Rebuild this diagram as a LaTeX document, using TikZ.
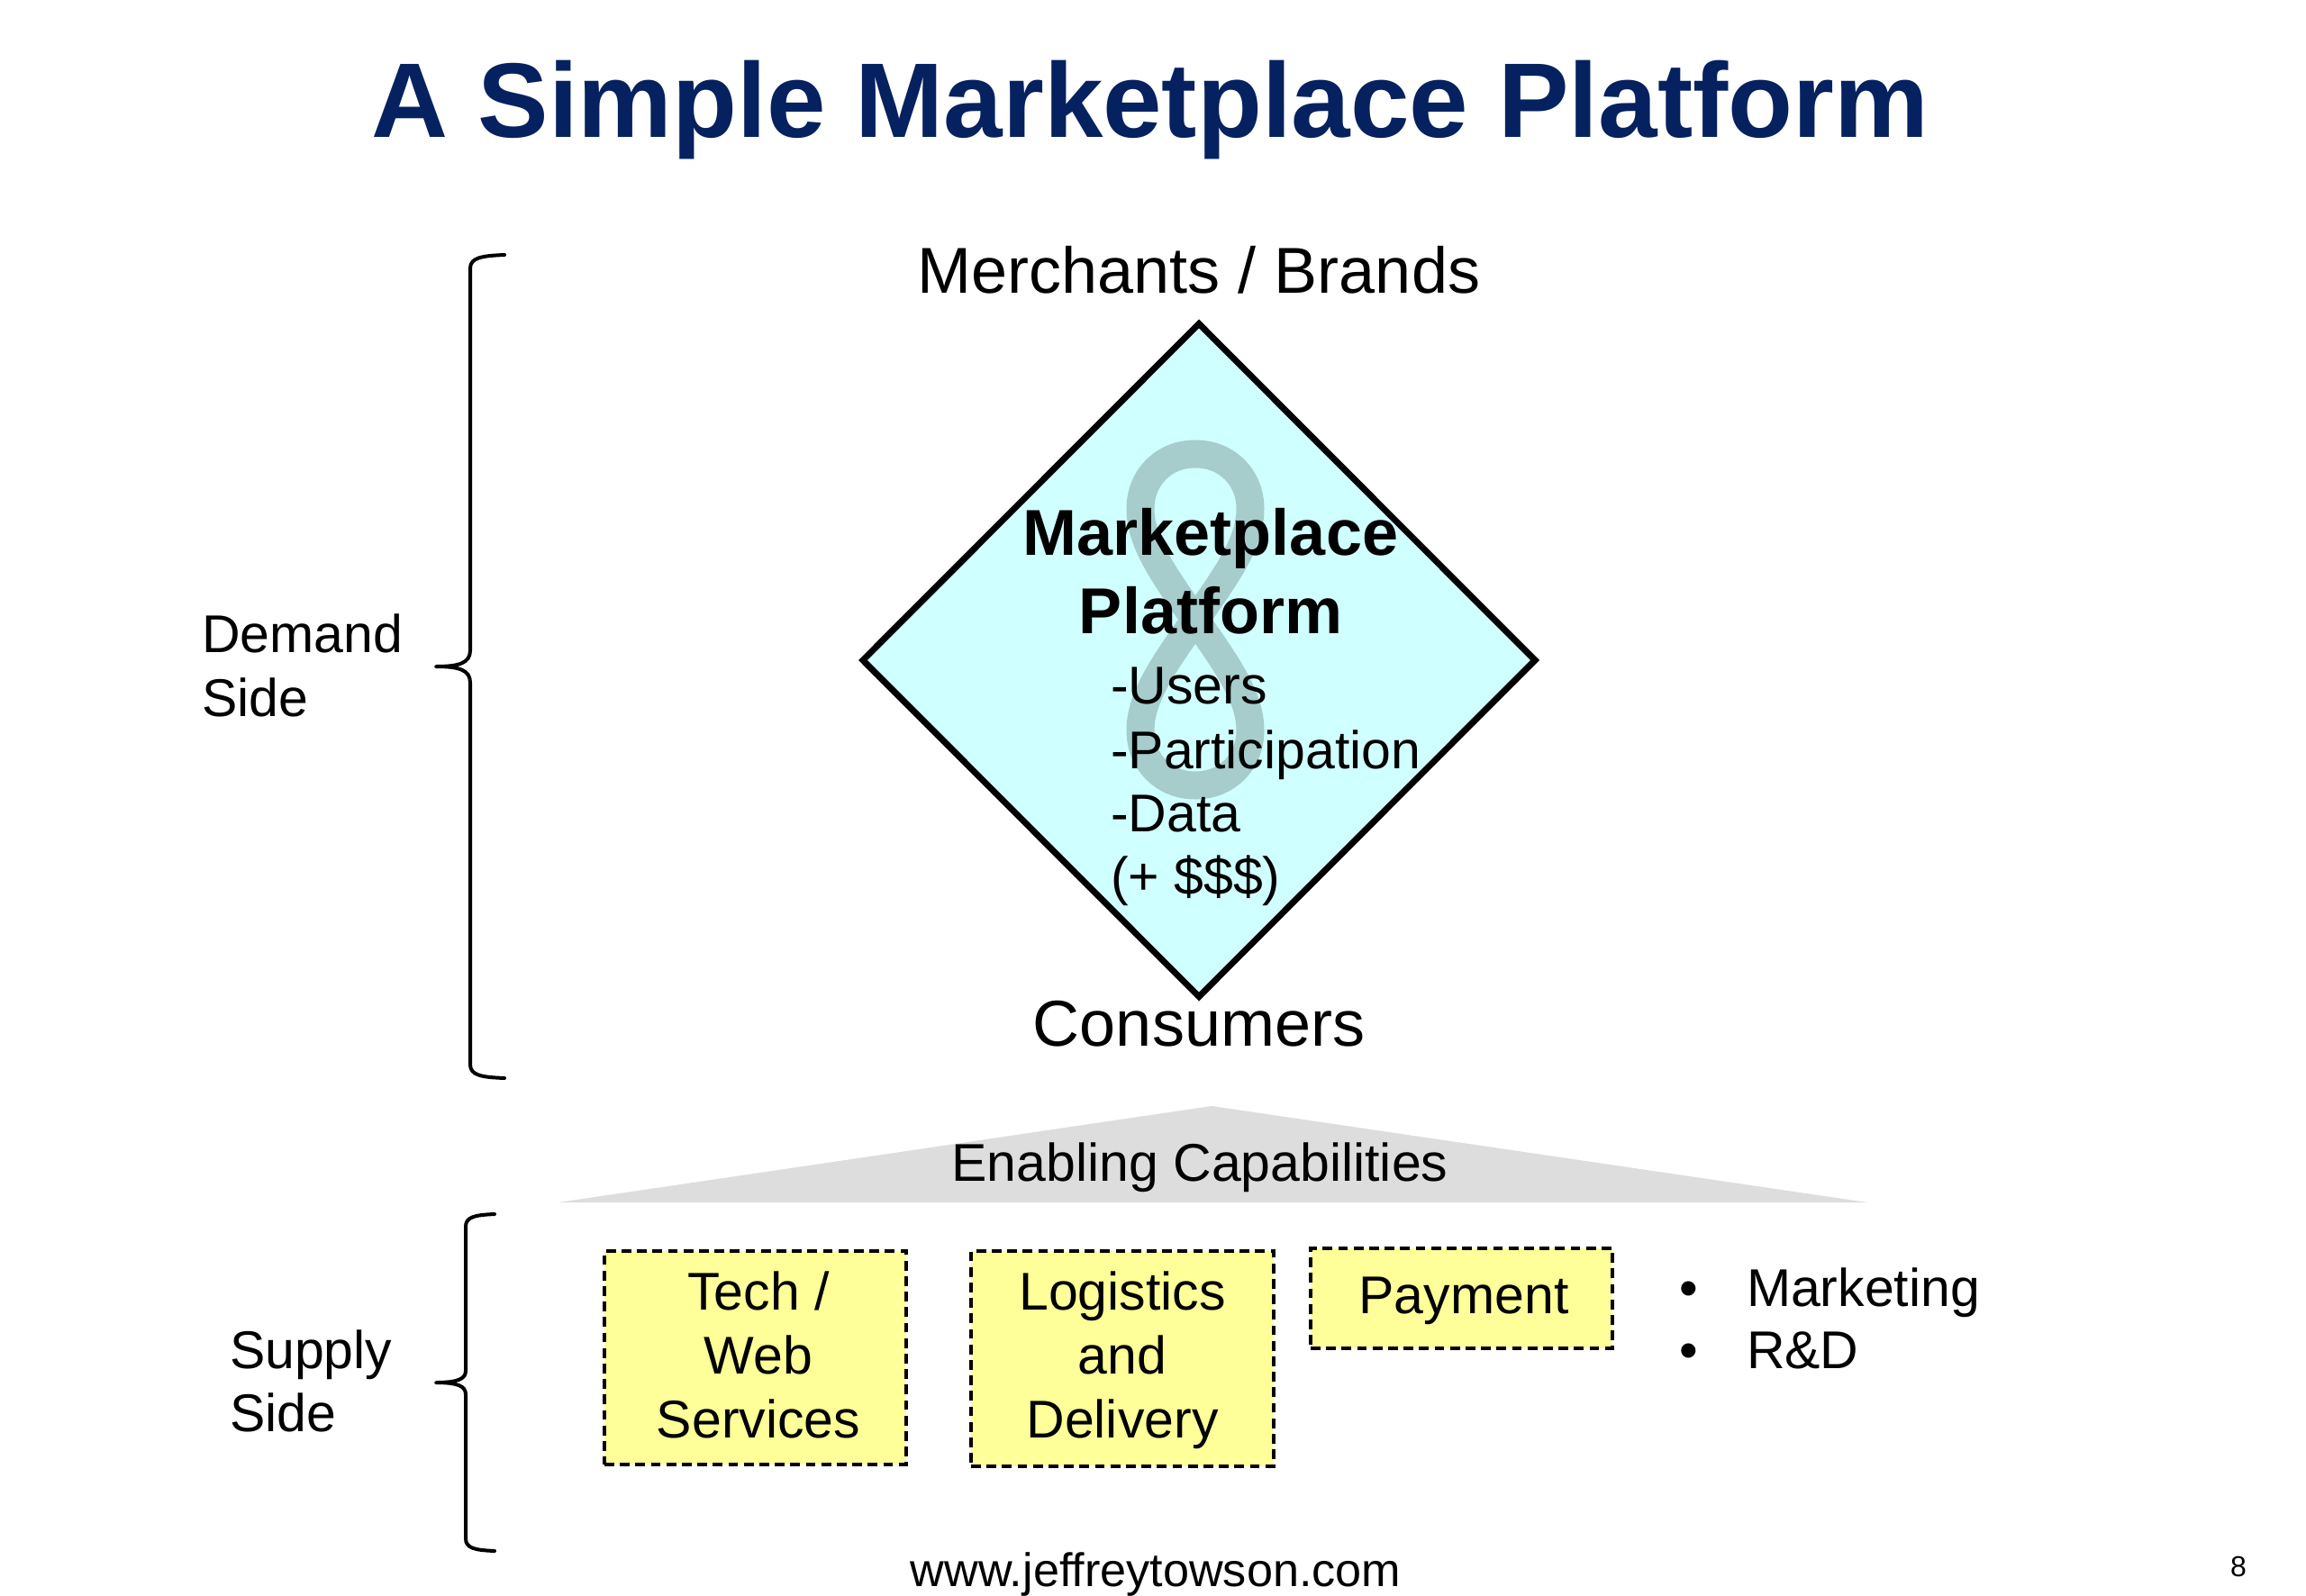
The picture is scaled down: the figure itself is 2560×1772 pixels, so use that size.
\documentclass[tikz,border=0pt]{standalone}
\usepackage{fontspec}
\setmainfont{Liberation Sans}
\usetikzlibrary{shapes.geometric}
\definecolor{titleblue}{HTML}{06215F}
\definecolor{diamondfill}{HTML}{D0FFFF}
\definecolor{eightcol}{HTML}{A6CCCC}
\definecolor{capgray}{HTML}{DDDDDD}
\definecolor{boxyellow}{HTML}{FFFF99}
\tikzset{
  lbl/.style={inner sep=0pt,outer sep=0pt,font=\fontsize{29.5}{35.5}\selectfont},
  big/.style={inner sep=0pt,outer sep=0pt,font=\fontsize{36}{43}\selectfont},
  capbox/.style={draw=black,fill=boxyellow,line width=1.6pt,dash pattern=on 5.4pt off 3.2pt,
    inner sep=0pt,outer sep=0pt},
  captext/.style={lbl,align=center},
  bracepath/.style={draw=black,line width=2pt,line cap=round,line join=round},
}
\begin{document}
\begin{tikzpicture}[x=0.5pt,y=-0.5pt]
\useasboundingbox (0,0) rectangle (2560,1772);
\node[inner sep=0pt,anchor=base,text=titleblue,font=\fontsize{58.9}{70}\selectfont\bfseries] (title) at (1277,152) {A Simple Marketplace Platform};
\node[big,anchor=base] (merchants) at (1331,325.5) {Merchants / Brands};
\node[big,anchor=base] (consumers) at (1331,1161) {Consumers};
% diamond
\node[diamond,aspect=1,draw=black,fill=diamondfill,line width=3.5pt,inner sep=0pt,minimum width=374.5pt,minimum height=375pt] (platform) at (1331,733) {};
% figure eight
\draw[eightcol,line width=15.5pt] (1327,688)
  .. controls (1365,635) and (1388,600) .. (1388,565)
  .. controls (1388,530) and (1362,504) .. (1327,504)
  .. controls (1292,504) and (1266,530) .. (1266,565)
  .. controls (1266,600) and (1289,635) .. (1327,688)
  .. controls (1365,741) and (1388,776) .. (1388,811)
  .. controls (1388,846) and (1362,872) .. (1327,872)
  .. controls (1292,872) and (1266,846) .. (1266,811)
  .. controls (1266,776) and (1289,741) .. (1327,688) -- cycle;
\node[inner sep=0pt,anchor=base,font=\fontsize{36}{43}\selectfont\bfseries] (mp1) at (1344,616) {Marketplace};
\node[inner sep=0pt,anchor=base,font=\fontsize{36}{43}\selectfont\bfseries] (mp2) at (1344,703.5) {Platform};
\node[lbl,anchor=base west] (l1) at (1233,781) {-Users};
\node[lbl,anchor=base west] (l2) at (1233,853) {-Participation};
\node[lbl,anchor=base west] (l3) at (1233,923) {-Data};
\node[lbl,anchor=base west] (l4) at (1233,993) {(+ \$\$\$)};
% demand brace
\draw[bracepath] (560,283) .. controls (535,284) and (522,286) .. (522,298)
  -- (522,722) .. controls (522,736) and (510,740) .. (484,740)
  .. controls (510,740) and (522,744) .. (522,758)
  -- (522,1182) .. controls (522,1194) and (535,1196) .. (560,1197);
\node[lbl,anchor=base west] (demand) at (224,724.5) {Demand};
\node[lbl,anchor=base west] (dside) at (224,795.5) {Side};
% triangle
\fill[capgray] (620,1335) -- (1345,1228) -- (2073,1335) -- cycle;
\node[lbl,anchor=base] (enabling) at (1332,1311) {Enabling Capabilities};
% supply brace
\draw[bracepath] (549,1348) .. controls (527,1349) and (517,1351) .. (517,1362)
  -- (517,1522) .. controls (517,1531) and (508,1535) .. (484,1535)
  .. controls (508,1535) and (517,1539) .. (517,1548)
  -- (517,1708) .. controls (517,1719) and (527,1721) .. (549,1722);
\node[lbl,anchor=base west] (supply) at (255,1519) {Supply};
\node[lbl,anchor=base west] (sside) at (255,1589) {Side};
% boxes
\node[capbox,minimum width=167.5pt,minimum height=118.5pt] (tech) at (838.5,1507.5) {};
\node[captext] (techtext) at (842,1504.5) {Tech /\\Web\\Services};
\node[capbox,minimum width=168pt,minimum height=119.5pt] (logistics) at (1246,1508.5) {};
\node[captext] (logtext) at (1246,1510) {Logistics\\and\\Delivery};
\node[capbox,minimum width=167.5pt,minimum height=55.5pt] (payment) at (1622.5,1441.5) {};
\node[captext] (paytext) at (1625,1444.5) {Payment};
% bullets
\node[lbl,anchor=base] (b1) at (1875,1450) {•};
\node[lbl,anchor=base] (b2) at (1875,1519) {•};
\node[lbl,anchor=base west] (marketing) at (1939,1450) {Marketing};
\node[lbl,anchor=base west] (rd) at (1939,1519) {R\&D};
% footer
\node[inner sep=0pt,anchor=base,font=\fontsize{26.1}{31}\selectfont] (web) at (1283,1761.5) {www.jeffreytowson.com};
\node[inner sep=0pt,anchor=base,font=\fontsize{16}{19}\selectfont] (page) at (2485,1750) {8};
\end{tikzpicture}
\end{document}
